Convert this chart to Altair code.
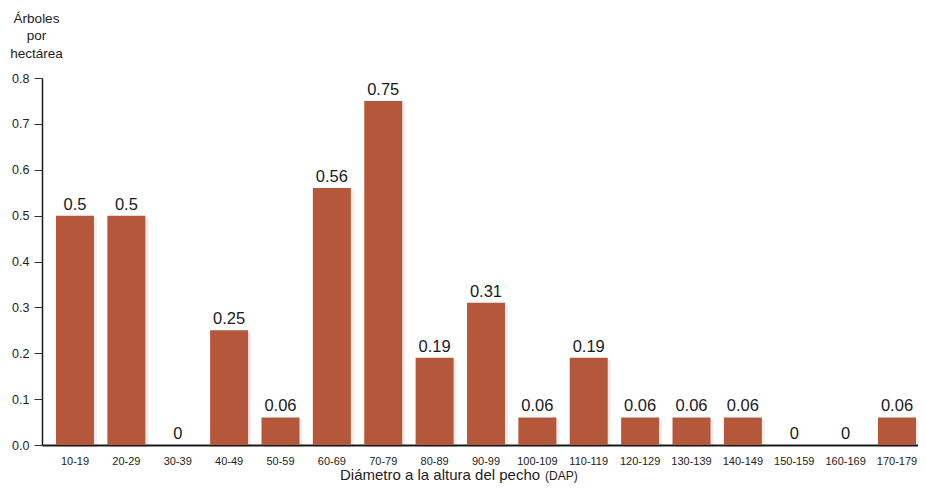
import altair as alt
import pandas as pd

categories = ["10-19", "20-29", "30-39", "40-49", "50-59", "60-69", "70-79", "80-89",
              "90-99", "100-109", "110-119", "120-129", "130-139", "140-149",
              "150-159", "160-169", "170-179"]
values = [0.5, 0.5, 0, 0.25, 0.06, 0.56, 0.75, 0.19, 0.31, 0.06, 0.19, 0.06, 0.06, 0.06, 0, 0, 0.06]
labels = ["0.5", "0.5", "0", "0.25", "0.06", "0.56", "0.75", "0.19", "0.31", "0.06",
          "0.19", "0.06", "0.06", "0.06", "0", "0", "0.06"]
y_ticks = [0.0, 0.1, 0.2, 0.3, 0.4, 0.5, 0.6, 0.7, 0.8]
x_title = "Diámetro a la altura del pecho"
x_title_abbr = "(DAP)"

df = pd.DataFrame({"cat": categories, "val": values, "lab": labels})

FONT = "Liberation Sans"

x = alt.X("cat:N", sort=categories,
          scale=alt.Scale(paddingInner=0.2603, paddingOuter=0.1556, align=0.875, round=False),
          axis=alt.Axis(title=None, labelAngle=0,
                        ticks=False, labelPadding=10, labelFontSize=11, labelColor="#222",
                        labelFont=FONT,
                        domainColor="#1a1a1a", domainWidth=2))
y = alt.Y("val:Q", scale=alt.Scale(domain=[0, 0.8], nice=False),
          axis=alt.Axis(values=y_ticks, format=".1f", grid=False, tickSize=8,
                        tickColor="#333", tickWidth=1, labelPadding=5, labelFontSize=12.5,
                        labelColor="#222", labelFont=FONT, domainColor="#1a1a1a",
                        domainWidth=1.5,
                        title=["Árboles", "por", "hectárea"], titleAngle=0,
                        titleAlign="center", titleBaseline="alphabetic",
                        titleX=-6, titleY=-56, titleFont=FONT, titleFontSize=13.5,
                        titleFontWeight="normal", titleColor="#222", titleLineHeight=17.5))

base = alt.Chart(df)

shadow = base.mark_bar(color="#000", opacity=0.07, xOffset=3, yOffset=2).encode(x=x, y=y)
bars = base.mark_bar(color="#B5573A").encode(x=x, y=y)
text = base.mark_text(dy=-6, baseline="alphabetic", fontSize=16.5, font=FONT, color="#1a1a1a").encode(
    x=x, y=y, text="lab:N")

title_df = pd.DataFrame({"t": [x_title]})
abbr_df = pd.DataFrame({"t": [x_title_abbr]})
title_main = alt.Chart(title_df).mark_text(align="left", baseline="alphabetic", fontSize=15,
                                           font=FONT, color="#222").encode(
    x=alt.value(298), y=alt.value(402), text="t:N")
title_abbr = alt.Chart(abbr_df).mark_text(align="left", baseline="alphabetic", fontSize=12,
                                          font=FONT, color="#222").encode(
    x=alt.value(503), y=alt.value(402), text="t:N")

chart = (shadow + bars + text + title_main + title_abbr).properties(
    width=876, height=367,
    background="white",
    autosize=alt.AutoSizeParams(type="none"),
    padding={"left": 34, "top": 70, "right": 0, "bottom": 39},
).configure_view(stroke=None, strokeWidth=0)

chart.save("out.html", embed_options={"renderer": "svg", "actions": False})
